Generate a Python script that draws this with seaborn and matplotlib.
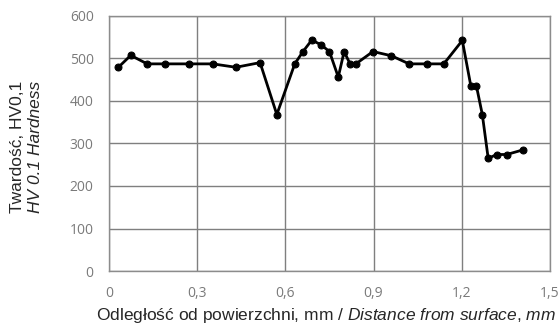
import matplotlib
matplotlib.use("Agg")
import matplotlib.pyplot as plt
import seaborn as sns
import pandas as pd

distance_mm = [0.032, 0.074, 0.130, 0.192, 0.271, 0.353, 0.432, 0.514, 0.571, 0.632,
               0.660, 0.690, 0.721, 0.750, 0.780, 0.800, 0.820, 0.840, 0.898, 0.961,
               1.021, 1.081, 1.139, 1.202, 1.231, 1.250, 1.270, 1.290, 1.319, 1.353, 1.409]
hardness_hv = [479, 507, 487, 487, 487, 487, 479, 490, 368, 487,
               516, 543, 532, 516, 456, 516, 487, 487, 516, 506,
               487, 487, 487, 542, 435, 435, 368, 265, 274, 274, 285]
x_ticks = [0, 0.3, 0.6, 0.9, 1.2, 1.5]
x_tick_labels = ["0", "0,3", "0,6", "0,9", "1,2", "1,5"]
y_ticks = [0, 100, 200, 300, 400, 500, 600]

sns.set_style("white")
plt.rcParams['mathtext.fontset'] = 'custom'
plt.rcParams['mathtext.rm'] = 'Liberation Sans'
plt.rcParams['mathtext.it'] = 'Liberation Sans:italic'

df = pd.DataFrame({"d": distance_mm, "hv": hardness_hv})

fig = plt.figure(figsize=(5.6, 3.29), dpi=100)
ax = fig.add_axes([0.1946, 0.176, 0.7874, 0.776])
sns.lineplot(data=df, x="d", y="hv", ax=ax, sort=False, color="black",
             linewidth=2, marker="o", markersize=5, markeredgecolor="black")

ax.set_xlim(0, 1.5)
ax.set_ylim(0, 600)
ax.set_xticks(x_ticks)
ax.set_xticklabels(x_tick_labels)
ax.set_yticks(y_ticks)
ax.grid(True, color="#7f7f7f", linewidth=1)
for s in ax.spines.values():
    s.set_visible(True)
    s.set_color("#8c8c8c")
    s.set_linewidth(1)
ax.tick_params(axis="both", length=0, labelsize=10, labelcolor="#7a7a7a")
ax.tick_params(axis="x", pad=11)
ax.tick_params(axis="y", pad=11)
for lbl in ax.get_xticklabels() + ax.get_yticklabels():
    lbl.set_fontfamily("Open Sans")

ax.set_xlabel("Odległość od powierzchni, mm / $Distance\\ from\\ surface{,}\\ mm$",
              fontfamily="Liberation Sans", fontsize=12.5)
ax.xaxis.set_label_coords(0.492, -0.138)
ax.set_ylabel("")
fig.text(0.032, 0.555, "Twardość, HV0,1", rotation=90, ha="center", va="center",
         fontfamily="Liberation Sans", fontsize=12.5)
fig.text(0.064, 0.555, "HV 0.1 Hardness", rotation=90, ha="center", va="center",
         fontfamily="Liberation Sans", fontstyle="italic", fontsize=12.5)

fig.savefig("out.png", dpi=100)
